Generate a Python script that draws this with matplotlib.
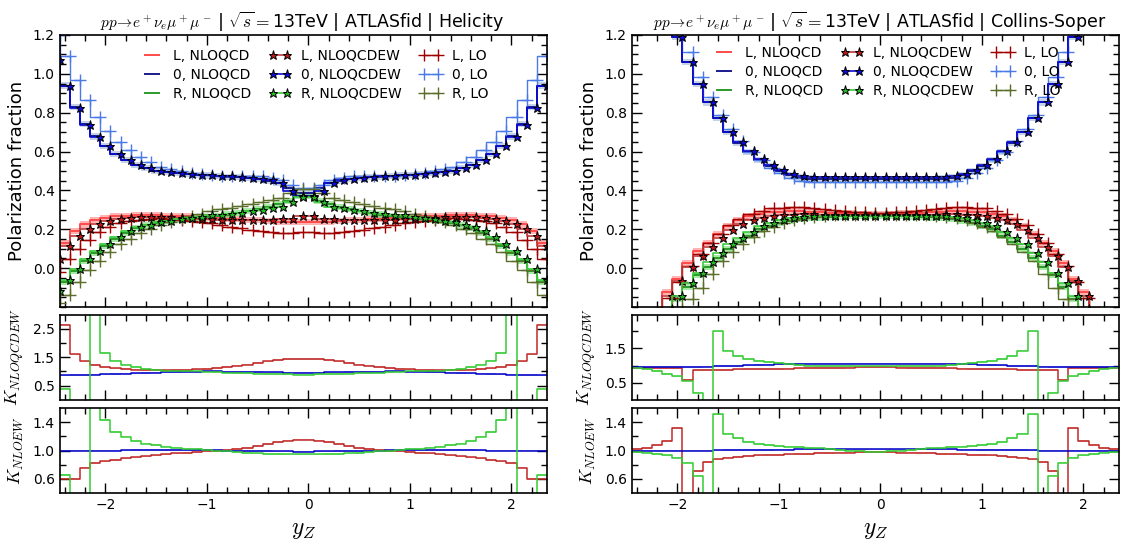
import numpy as np
import matplotlib.pyplot as plt
from matplotlib.ticker import MultipleLocator, FixedLocator

plt.rcParams['mathtext.fontset'] = 'cm'
plt.rcParams['font.family'] = 'DejaVu Sans'

# bin positions (markers sit at the right end of each step)
yz = np.linspace(-2.45, 2.35, 49)

# ---------------- Helicity frame ----------------
hel_L_qcd = [0.09, 0.13, 0.19, 0.225, 0.248, 0.26, 0.266, 0.27, 0.272, 0.272, 0.272, 0.27, 0.268, 0.266, 0.264, 0.261, 0.258, 0.255, 0.252, 0.249, 0.246, 0.243, 0.24, 0.238, 0.237,
             0.237, 0.238, 0.24, 0.243, 0.246, 0.249, 0.252, 0.255, 0.258, 0.261, 0.264, 0.266, 0.268, 0.27, 0.272, 0.272, 0.272, 0.27, 0.266, 0.26, 0.248, 0.225, 0.19, 0.13]
hel_0_qcd = [1.06, 0.94, 0.83, 0.74, 0.678, 0.628, 0.588, 0.557, 0.532, 0.515, 0.502, 0.494, 0.489, 0.485, 0.481, 0.477, 0.474, 0.471, 0.468, 0.464, 0.459, 0.451, 0.44, 0.41, 0.385,
             0.385, 0.41, 0.44, 0.451, 0.459, 0.464, 0.468, 0.471, 0.474, 0.477, 0.481, 0.485, 0.489, 0.494, 0.502, 0.515, 0.532, 0.557, 0.588, 0.628, 0.678, 0.74, 0.83, 0.94]
hel_R_qcd = [-0.12, -0.07, -0.015, 0.036, 0.079, 0.114, 0.148, 0.18, 0.205, 0.22, 0.232, 0.241, 0.247, 0.252, 0.257, 0.263, 0.269, 0.276, 0.284, 0.293, 0.303, 0.315, 0.328, 0.345, 0.37,
             0.37, 0.345, 0.328, 0.315, 0.303, 0.293, 0.284, 0.276, 0.269, 0.263, 0.257, 0.252, 0.247, 0.241, 0.232, 0.22, 0.205, 0.18, 0.148, 0.114, 0.079, 0.036, -0.015, -0.07]
hel_L_ew = [0.045, 0.114, 0.165, 0.2, 0.226, 0.243, 0.255, 0.26, 0.264, 0.265, 0.265, 0.263, 0.26, 0.257, 0.254, 0.251, 0.249, 0.247, 0.246, 0.246, 0.247, 0.248, 0.251, 0.255, 0.266,
            0.266, 0.255, 0.251, 0.248, 0.247, 0.246, 0.246, 0.247, 0.249, 0.251, 0.254, 0.257, 0.26, 0.263, 0.265, 0.265, 0.264, 0.26, 0.255, 0.243, 0.226, 0.2, 0.165, 0.114]
hel_0_ew = [1.07, 0.935, 0.825, 0.737, 0.677, 0.627, 0.587, 0.556, 0.531, 0.515, 0.501, 0.494, 0.489, 0.485, 0.481, 0.478, 0.475, 0.472, 0.469, 0.465, 0.46, 0.452, 0.44, 0.398, 0.372,
            0.372, 0.398, 0.44, 0.452, 0.46, 0.465, 0.469, 0.472, 0.475, 0.478, 0.481, 0.485, 0.489, 0.494, 0.501, 0.515, 0.531, 0.556, 0.587, 0.627, 0.677, 0.737, 0.825, 0.935]
hel_R_ew = [-0.119, -0.059, -0.003, 0.045, 0.088, 0.122, 0.16, 0.19, 0.21, 0.224, 0.236, 0.245, 0.252, 0.258, 0.265, 0.271, 0.276, 0.28, 0.286, 0.292, 0.299, 0.307, 0.316, 0.34, 0.365,
            0.365, 0.34, 0.316, 0.307, 0.299, 0.292, 0.286, 0.28, 0.276, 0.271, 0.265, 0.258, 0.252, 0.245, 0.236, 0.224, 0.21, 0.19, 0.16, 0.122, 0.088, 0.045, -0.003, -0.059]
hel_L_lo = [-0.02, 0.045, 0.1, 0.147, 0.185, 0.211, 0.23, 0.241, 0.25, 0.254, 0.256, 0.255, 0.25, 0.243, 0.237, 0.23, 0.222, 0.214, 0.205, 0.197, 0.19, 0.185, 0.182, 0.182, 0.185,
            0.185, 0.182, 0.182, 0.185, 0.19, 0.197, 0.205, 0.214, 0.222, 0.23, 0.237, 0.243, 0.25, 0.255, 0.256, 0.254, 0.25, 0.241, 0.23, 0.211, 0.185, 0.147, 0.1, 0.045]
hel_0_lo = [1.2, 1.094, 0.969, 0.863, 0.78, 0.708, 0.648, 0.608, 0.571, 0.545, 0.522, 0.509, 0.499, 0.49, 0.483, 0.478, 0.475, 0.474, 0.474, 0.474, 0.472, 0.466, 0.456, 0.43, 0.41,
            0.41, 0.43, 0.456, 0.466, 0.472, 0.474, 0.474, 0.474, 0.475, 0.478, 0.483, 0.49, 0.499, 0.509, 0.522, 0.545, 0.571, 0.608, 0.648, 0.708, 0.78, 0.863, 0.969, 1.094]
hel_R_lo = [-0.18, -0.139, -0.069, -0.01, 0.035, 0.081, 0.122, 0.151, 0.179, 0.201, 0.222, 0.236, 0.251, 0.267, 0.28, 0.292, 0.303, 0.312, 0.321, 0.329, 0.338, 0.349, 0.362, 0.388, 0.405,
            0.405, 0.388, 0.362, 0.349, 0.338, 0.329, 0.321, 0.312, 0.303, 0.292, 0.28, 0.267, 0.251, 0.236, 0.222, 0.201, 0.179, 0.151, 0.122, 0.081, 0.035, -0.01, -0.069, -0.139]

hel_kqcdew_L = [2.65, 2.65, 1.6, 1.35, 1.22, 1.15, 1.11, 1.08, 1.056, 1.044, 1.035, 1.035, 1.044, 1.056, 1.07, 1.09, 1.12, 1.15, 1.2, 1.24, 1.3, 1.35, 1.4, 1.43, 1.44,
                1.44, 1.43, 1.4, 1.35, 1.3, 1.24, 1.2, 1.15, 1.12, 1.09, 1.07, 1.056, 1.044, 1.035, 1.035, 1.044, 1.056, 1.08, 1.11, 1.15, 1.22, 1.35, 1.6, 2.65]
hel_kqcdew_0 = [0.86, 0.86, 0.87, 0.875, 0.88, 0.89, 0.9, 0.915, 0.93, 0.945, 0.96, 0.97, 0.98, 0.99, 0.995, 1.0, 1.0, 0.995, 0.99, 0.98, 0.975, 0.97, 0.965, 0.96, 0.955,
                0.955, 0.96, 0.965, 0.97, 0.975, 0.98, 0.99, 0.995, 1.0, 1.0, 0.995, 0.99, 0.98, 0.97, 0.96, 0.945, 0.93, 0.915, 0.9, 0.89, 0.88, 0.875, 0.87, 0.86]
hel_kqcdew_R = [0.39, 0.39, -0.3, -3.0, 4.0, 1.65, 1.38, 1.24, 1.15, 1.09, 1.056, 1.03, 1.02, 1.01, 1.0, 0.99, 0.98, 0.96, 0.94, 0.93, 0.915, 0.905, 0.9, 0.89, 0.88,
                0.88, 0.89, 0.9, 0.905, 0.915, 0.93, 0.94, 0.96, 0.98, 0.99, 1.0, 1.01, 1.02, 1.03, 1.056, 1.09, 1.15, 1.24, 1.38, 1.65, 4.0, -3.0, -0.3, 0.39]
hel_knloew_L = [0.6, 0.6, 0.6, 0.76, 0.82, 0.846, 0.87, 0.888, 0.902, 0.916, 0.93, 0.944, 0.958, 0.967, 0.977, 0.986, 0.995, 1.005, 1.019, 1.037, 1.061, 1.089, 1.117, 1.14, 1.155,
                1.155, 1.14, 1.117, 1.089, 1.061, 1.037, 1.019, 1.005, 0.995, 0.986, 0.977, 0.967, 0.958, 0.944, 0.93, 0.916, 0.902, 0.888, 0.87, 0.846, 0.82, 0.76, 0.6, 0.6]
hel_knloew_0 = [1.0, 1.0, 1.0, 1.0, 1.0, 1.0, 1.0, 1.002, 1.004, 1.005, 1.006, 1.007, 1.007, 1.006, 1.005, 1.004, 1.002, 1.0, 0.998, 0.995, 0.992, 0.99, 0.988, 0.986, 0.985,
                0.985, 0.986, 0.988, 0.99, 0.992, 0.995, 0.998, 1.0, 1.002, 1.004, 1.005, 1.006, 1.007, 1.007, 1.006, 1.005, 1.004, 1.002, 1.0, 1.0, 1.0, 1.0, 1.0, 1.0]
hel_knloew_R = [0.65, 0.65, 0.2, -0.5, 3.0, 1.43, 1.26, 1.197, 1.136, 1.098, 1.075, 1.056, 1.042, 1.028, 1.019, 1.005, 0.995, 0.986, 0.977, 0.967, 0.958, 0.953, 0.949, 0.944, 0.944,
                0.944, 0.944, 0.949, 0.953, 0.958, 0.967, 0.977, 0.986, 0.995, 1.005, 1.019, 1.028, 1.042, 1.056, 1.075, 1.098, 1.136, 1.197, 1.26, 1.43, 3.0, -0.5, 0.2, 0.65]

# ---------------- Collins-Soper frame ----------------
cs_L_qcd = [-0.62, -0.45, -0.32, -0.214, -0.124, -0.055, 0.025, 0.087, 0.131, 0.175, 0.218, 0.248, 0.267, 0.28, 0.288, 0.291, 0.292, 0.292, 0.29, 0.288, 0.285, 0.283, 0.281, 0.28, 0.279,
            0.279, 0.28, 0.281, 0.283, 0.285, 0.288, 0.29, 0.292, 0.292, 0.291, 0.288, 0.28, 0.267, 0.248, 0.218, 0.175, 0.131, 0.087, 0.025, -0.055, -0.124, -0.214, -0.32, -0.45]
cs_0_qcd = [2.0, 1.8, 1.6, 1.45, 1.32, 1.19, 1.062, 0.948, 0.853, 0.772, 0.7, 0.645, 0.598, 0.558, 0.526, 0.499, 0.478, 0.466, 0.461, 0.46, 0.46, 0.46, 0.46, 0.46, 0.46,
            0.46, 0.46, 0.46, 0.46, 0.46, 0.46, 0.461, 0.466, 0.478, 0.499, 0.526, 0.558, 0.598, 0.645, 0.7, 0.772, 0.853, 0.948, 1.062, 1.19, 1.32, 1.45, 1.6, 1.8]
cs_R_qcd = [-0.72, -0.52, -0.4, -0.3, -0.226, -0.157, -0.095, -0.037, 0.005, 0.052, 0.098, 0.133, 0.168, 0.199, 0.218, 0.234, 0.245, 0.252, 0.258, 0.261, 0.264, 0.266, 0.267, 0.268, 0.27,
            0.27, 0.268, 0.267, 0.266, 0.264, 0.261, 0.258, 0.252, 0.245, 0.234, 0.218, 0.199, 0.168, 0.133, 0.098, 0.052, 0.005, -0.037, -0.095, -0.157, -0.226, -0.3, -0.4, -0.52]
cs_L_ew = [-0.6, -0.445, -0.325, -0.228, -0.141, -0.067, 0.007, 0.062, 0.11, 0.153, 0.196, 0.226, 0.246, 0.26, 0.269, 0.274, 0.276, 0.277, 0.277, 0.276, 0.275, 0.274, 0.273, 0.272, 0.271,
           0.271, 0.272, 0.273, 0.274, 0.275, 0.276, 0.277, 0.277, 0.276, 0.274, 0.269, 0.26, 0.246, 0.226, 0.196, 0.153, 0.11, 0.062, 0.007, -0.067, -0.141, -0.228, -0.325, -0.445]
cs_0_ew = [2.0, 1.8, 1.6, 1.45, 1.32, 1.19, 1.063, 0.949, 0.854, 0.774, 0.703, 0.648, 0.602, 0.563, 0.532, 0.506, 0.485, 0.473, 0.468, 0.467, 0.467, 0.467, 0.467, 0.467, 0.467,
           0.467, 0.467, 0.467, 0.467, 0.467, 0.467, 0.468, 0.473, 0.485, 0.506, 0.532, 0.563, 0.602, 0.648, 0.703, 0.774, 0.854, 0.949, 1.063, 1.19, 1.32, 1.45, 1.6, 1.8]
cs_R_ew = [-0.7, -0.5, -0.38, -0.29, -0.21, -0.141, -0.079, -0.024, 0.033, 0.079, 0.122, 0.157, 0.188, 0.217, 0.234, 0.248, 0.257, 0.262, 0.266, 0.268, 0.269, 0.27, 0.27, 0.27, 0.27,
           0.27, 0.27, 0.27, 0.27, 0.269, 0.268, 0.266, 0.262, 0.257, 0.248, 0.234, 0.217, 0.188, 0.157, 0.122, 0.079, 0.033, -0.024, -0.079, -0.141, -0.21, -0.29, -0.38, -0.5]
cs_L_lo = [-0.65, -0.48, -0.35, -0.245, -0.152, -0.072, 0.012, 0.072, 0.127, 0.177, 0.222, 0.252, 0.277, 0.295, 0.307, 0.312, 0.315, 0.314, 0.311, 0.305, 0.299, 0.294, 0.29, 0.287, 0.285,
           0.285, 0.287, 0.29, 0.294, 0.299, 0.305, 0.311, 0.314, 0.315, 0.312, 0.307, 0.295, 0.277, 0.252, 0.222, 0.177, 0.127, 0.072, 0.012, -0.072, -0.152, -0.245, -0.35, -0.48]
cs_0_lo = [2.2, 1.95, 1.72, 1.55, 1.38, 1.24, 1.11, 0.985, 0.88, 0.79, 0.715, 0.652, 0.6, 0.555, 0.518, 0.488, 0.462, 0.447, 0.442, 0.441, 0.441, 0.441, 0.441, 0.441, 0.441,
           0.441, 0.441, 0.441, 0.441, 0.441, 0.441, 0.442, 0.447, 0.462, 0.488, 0.518, 0.555, 0.6, 0.652, 0.715, 0.79, 0.88, 0.985, 1.11, 1.24, 1.38, 1.55, 1.72, 1.95]
cs_R_lo = [-0.75, -0.55, -0.42, -0.33, -0.25, -0.21, -0.16, -0.1, -0.03, 0.035, 0.085, 0.125, 0.158, 0.19, 0.213, 0.232, 0.247, 0.258, 0.265, 0.27, 0.272, 0.273, 0.274, 0.274, 0.274,
           0.274, 0.274, 0.274, 0.273, 0.272, 0.27, 0.265, 0.258, 0.247, 0.232, 0.213, 0.19, 0.158, 0.125, 0.085, 0.035, -0.03, -0.1, -0.16, -0.21, -0.25, -0.33, -0.42, -0.55]

cs_kqcdew_L = [0.93, 0.93, 0.93, 0.93, 0.93, 0.93, 0.58, 0.87, 0.87, 0.87, 0.88, 0.885, 0.89, 0.895, 0.9, 0.905, 0.91, 0.915, 0.92, 0.925, 0.93, 0.935, 0.94, 0.945, 0.95,
               0.95, 0.945, 0.94, 0.935, 0.93, 0.925, 0.92, 0.915, 0.91, 0.905, 0.9, 0.895, 0.89, 0.885, 0.88, 0.87, 0.87, 0.87, 0.58, 0.93, 0.93, 0.93, 0.93, 0.93]
cs_kqcdew_0 = [0.955, 0.955, 0.955, 0.955, 0.955, 0.955, 0.958, 0.963, 0.97, 0.977, 0.983, 0.99, 1.003, 1.014, 1.027, 1.037, 1.05, 1.058, 1.06, 1.06, 1.06, 1.06, 1.06, 1.06, 1.06,
               1.06, 1.06, 1.06, 1.06, 1.06, 1.06, 1.06, 1.058, 1.05, 1.037, 1.027, 1.014, 1.003, 0.99, 0.983, 0.977, 0.97, 0.963, 0.958, 0.955, 0.955, 0.955, 0.955, 0.955]
cs_kqcdew_R = [0.93, 0.93, 0.9, 0.85, 0.76, 0.68, 0.56, 0.21, -1.0, 2.0, 1.44, 1.29, 1.2, 1.14, 1.1, 1.07, 1.04, 1.01, 1.0, 0.99, 0.985, 0.98, 0.98, 0.975, 0.975,
               0.975, 0.975, 0.98, 0.98, 0.985, 0.99, 1.0, 1.01, 1.04, 1.07, 1.1, 1.14, 1.2, 1.29, 1.44, 2.0, -1.0, 0.21, 0.56, 0.68, 0.76, 0.85, 0.9, 0.93]
cs_knloew_L = [1.02, 1.02, 1.04, 1.075, 1.136, 1.314, 0.2, 0.715, 0.84, 0.874, 0.9, 0.91, 0.92, 0.93, 0.935, 0.94, 0.945, 0.95, 0.955, 0.96, 0.965, 0.97, 0.97, 0.975, 0.975,
               0.975, 0.975, 0.97, 0.97, 0.965, 0.96, 0.955, 0.95, 0.945, 0.94, 0.935, 0.93, 0.92, 0.91, 0.9, 0.874, 0.84, 0.715, 0.2, 1.314, 1.136, 1.075, 1.04, 1.02]
cs_knloew_0 = [1.0, 1.0, 1.0, 1.0, 1.0, 1.0, 1.0, 1.0, 1.0, 1.002, 1.004, 1.006, 1.008, 1.01, 1.012, 1.013, 1.014, 1.015, 1.015, 1.015, 1.015, 1.015, 1.015, 1.015, 1.015,
               1.015, 1.015, 1.015, 1.015, 1.015, 1.015, 1.015, 1.015, 1.014, 1.013, 1.012, 1.01, 1.008, 1.006, 1.004, 1.002, 1.0, 1.0, 1.0, 1.0, 1.0, 1.0, 1.0, 1.0]
cs_knloew_R = [0.98, 0.98, 0.97, 0.955, 0.93, 0.9, 0.83, 0.645, -1.0, 1.51, 1.24, 1.18, 1.12, 1.09, 1.075, 1.065, 1.055, 1.045, 1.04, 1.03, 1.02, 1.01, 1.0, 0.99, 0.985,
               0.985, 0.99, 1.0, 1.01, 1.02, 1.03, 1.04, 1.045, 1.055, 1.065, 1.075, 1.09, 1.12, 1.18, 1.24, 1.51, -1.0, 0.645, 0.83, 0.9, 0.93, 0.955, 0.97, 0.98]

pol_labels = ['L', '0', 'R']
qcd_err = 0.016
kqcdew_err = 0.025
knloew_err = 0.012

qcd_line = ['#ff4a4a', '#1a1a8c', '#2a9a2a']
qcd_band = ['#ff5a5a', '#7f9fd0', '#3ccc3c']
ew_line = ['#c03a3a', '#0a0ad0', '#3ccc3c']
ew_face = ['#c01818', '#0a0ae0', '#22bb22']
lo_line = ['#a00000', '#4a7ae8', '#5a6e2a']
k_line = ['#c02828', '#0000c8', '#33cc33']
k_band = ['#e08a8a', '#8a8ae8', '#8ee08e']

W, H = 1121, 551
fig = plt.figure(figsize=(W / 100, H / 100), dpi=100)


def px_axes(x0, x1, y0, y1):
    return fig.add_axes([x0 / W, 1 - y1 / H, (x1 - x0) / W, (y1 - y0) / H])


def style(ax):
    ax.set_xlim(-2.45, 2.35)
    ax.xaxis.set_major_locator(MultipleLocator(1))
    ax.xaxis.set_minor_locator(MultipleLocator(0.2))
    ax.tick_params(which='both', direction='in', top=True, right=True, labelsize=10)
    ax.tick_params(which='major', length=7, width=1)
    ax.tick_params(which='minor', length=4, width=1)
    for s in ax.spines.values():
        s.set_linewidth(1.2)


def main_panel(ax, qcd, ew, lo, frame, split, leg_top):
    for i, y in enumerate(qcd):
        y = np.array(y)
        ax.fill_between(yz, y - qcd_err, y + qcd_err, step='pre', color=qcd_band[i],
                        alpha=0.45, lw=0)
        ax.plot(yz, y, drawstyle='steps-pre', color=qcd_line[i], lw=1.4,
                label=pol_labels[i] + ', NLOQCD')
    for i, y in enumerate(lo):
        ax.plot(yz, y, drawstyle='steps-pre', color=lo_line[i], lw=1.0, marker='+',
                ms=8, mew=1.0, label=pol_labels[i] + ', LO')
    for i, y in enumerate(ew):
        ax.plot(yz, y, drawstyle='steps-pre', color=ew_line[i], lw=1.2, marker='*',
                ms=6.5, mfc=ew_face[i], mec='k', mew=0.7, label=pol_labels[i] + ', NLOQCDEW')
    h, l = ax.get_legend_handles_labels()
    order = [0, 1, 2, 6, 7, 8, 3, 4, 5]
    ax.legend([h[k] for k in order], [l[k] for k in order], ncol=3, frameon=False,
              loc='upper left', bbox_to_anchor=(0.155, leg_top), fontsize=10,
              handlelength=1.6, handletextpad=0.7, columnspacing=1.3,
              labelspacing=0.35, numpoints=2, borderaxespad=0)
    ax.set_ylim(-0.2, 1.2)
    ax.yaxis.set_major_locator(FixedLocator([0.0, 0.2, 0.4, 0.6, 0.8, 1.0, 1.2]))
    ax.yaxis.set_minor_locator(MultipleLocator(0.05))
    ax.set_ylabel('Polarization fraction', fontsize=13)
    ax.yaxis.set_label_coords(-0.07, 0.5)
    # title: process in math font, the rest in text font
    ax.text(split, 1.024, r'$pp\!\to\! e^+\nu_e\mu^+\mu^-$', transform=ax.transAxes,
            ha='right', va='baseline', fontsize=11)
    ax.text(split, 1.024, r' | $\sqrt{s}=$13TeV | ATLASfid | ' + frame,
            transform=ax.transAxes, ha='left', va='baseline', fontsize=12.5)
    ax.tick_params(labelbottom=False)


def ratio_panel(ax, ks, err, ylim, major, minor, label):
    for i, y in enumerate(ks):
        y = np.array(y)
        ax.fill_between(yz, y - err, y + err, step='pre', color=k_band[i], alpha=0.6, lw=0)
        ax.plot(yz, y, drawstyle='steps-pre', color=k_line[i], lw=1.1)
    ax.set_ylim(*ylim)
    ax.yaxis.set_major_locator(FixedLocator(major))
    ax.yaxis.set_minor_locator(FixedLocator(minor))
    ax.set_ylabel(label, fontsize=13)
    ax.yaxis.set_label_coords(-0.07, 0.5)


frames = [
    ('Helicity', 59.7, 0.312, 0.969, [hel_L_qcd, hel_0_qcd, hel_R_qcd], [hel_L_ew, hel_0_ew, hel_R_ew],
     [hel_L_lo, hel_0_lo, hel_R_lo], [hel_kqcdew_L, hel_kqcdew_0, hel_kqcdew_R],
     [hel_knloew_L, hel_knloew_0, hel_knloew_R], (0, 3.0)),
    ('Collins-Soper', 631.7, 0.272, 0.98, [cs_L_qcd, cs_0_qcd, cs_R_qcd], [cs_L_ew, cs_0_ew, cs_R_ew],
     [cs_L_lo, cs_0_lo, cs_R_lo], [cs_kqcdew_L, cs_kqcdew_0, cs_kqcdew_R],
     [cs_knloew_L, cs_knloew_0, cs_knloew_R], (0, 2.49)),
]

for name, x0, split, leg_top, qcd, ew, lo, k1, k2, k1lim in frames:
    for arr in qcd + ew + lo + k1 + k2:
        assert len(arr) == 49, (name, len(arr))
    x1 = x0 + 487.3
    ax = px_axes(x0, x1, 35, 307)
    style(ax)
    main_panel(ax, qcd, ew, lo, name, split, leg_top)

    ax2 = px_axes(x0, x1, 314.7, 399.7)
    style(ax2)
    ratio_panel(ax2, k1, kqcdew_err, k1lim, [0.5, 1.5, 2.5], [1.0, 2.0], r'$K_{NLOQCDEW}$')
    ax2.tick_params(labelbottom=False)

    ax3 = px_axes(x0, x1, 408, 493)
    style(ax3)
    ratio_panel(ax3, k2, knloew_err, (0.4, 1.6), [0.6, 1.0, 1.4], [0.8, 1.2], r'$K_{NLOEW}$')
    ax3.set_xlabel(r'$y_Z$', fontsize=17)

fig.savefig('out.png', dpi=100)
